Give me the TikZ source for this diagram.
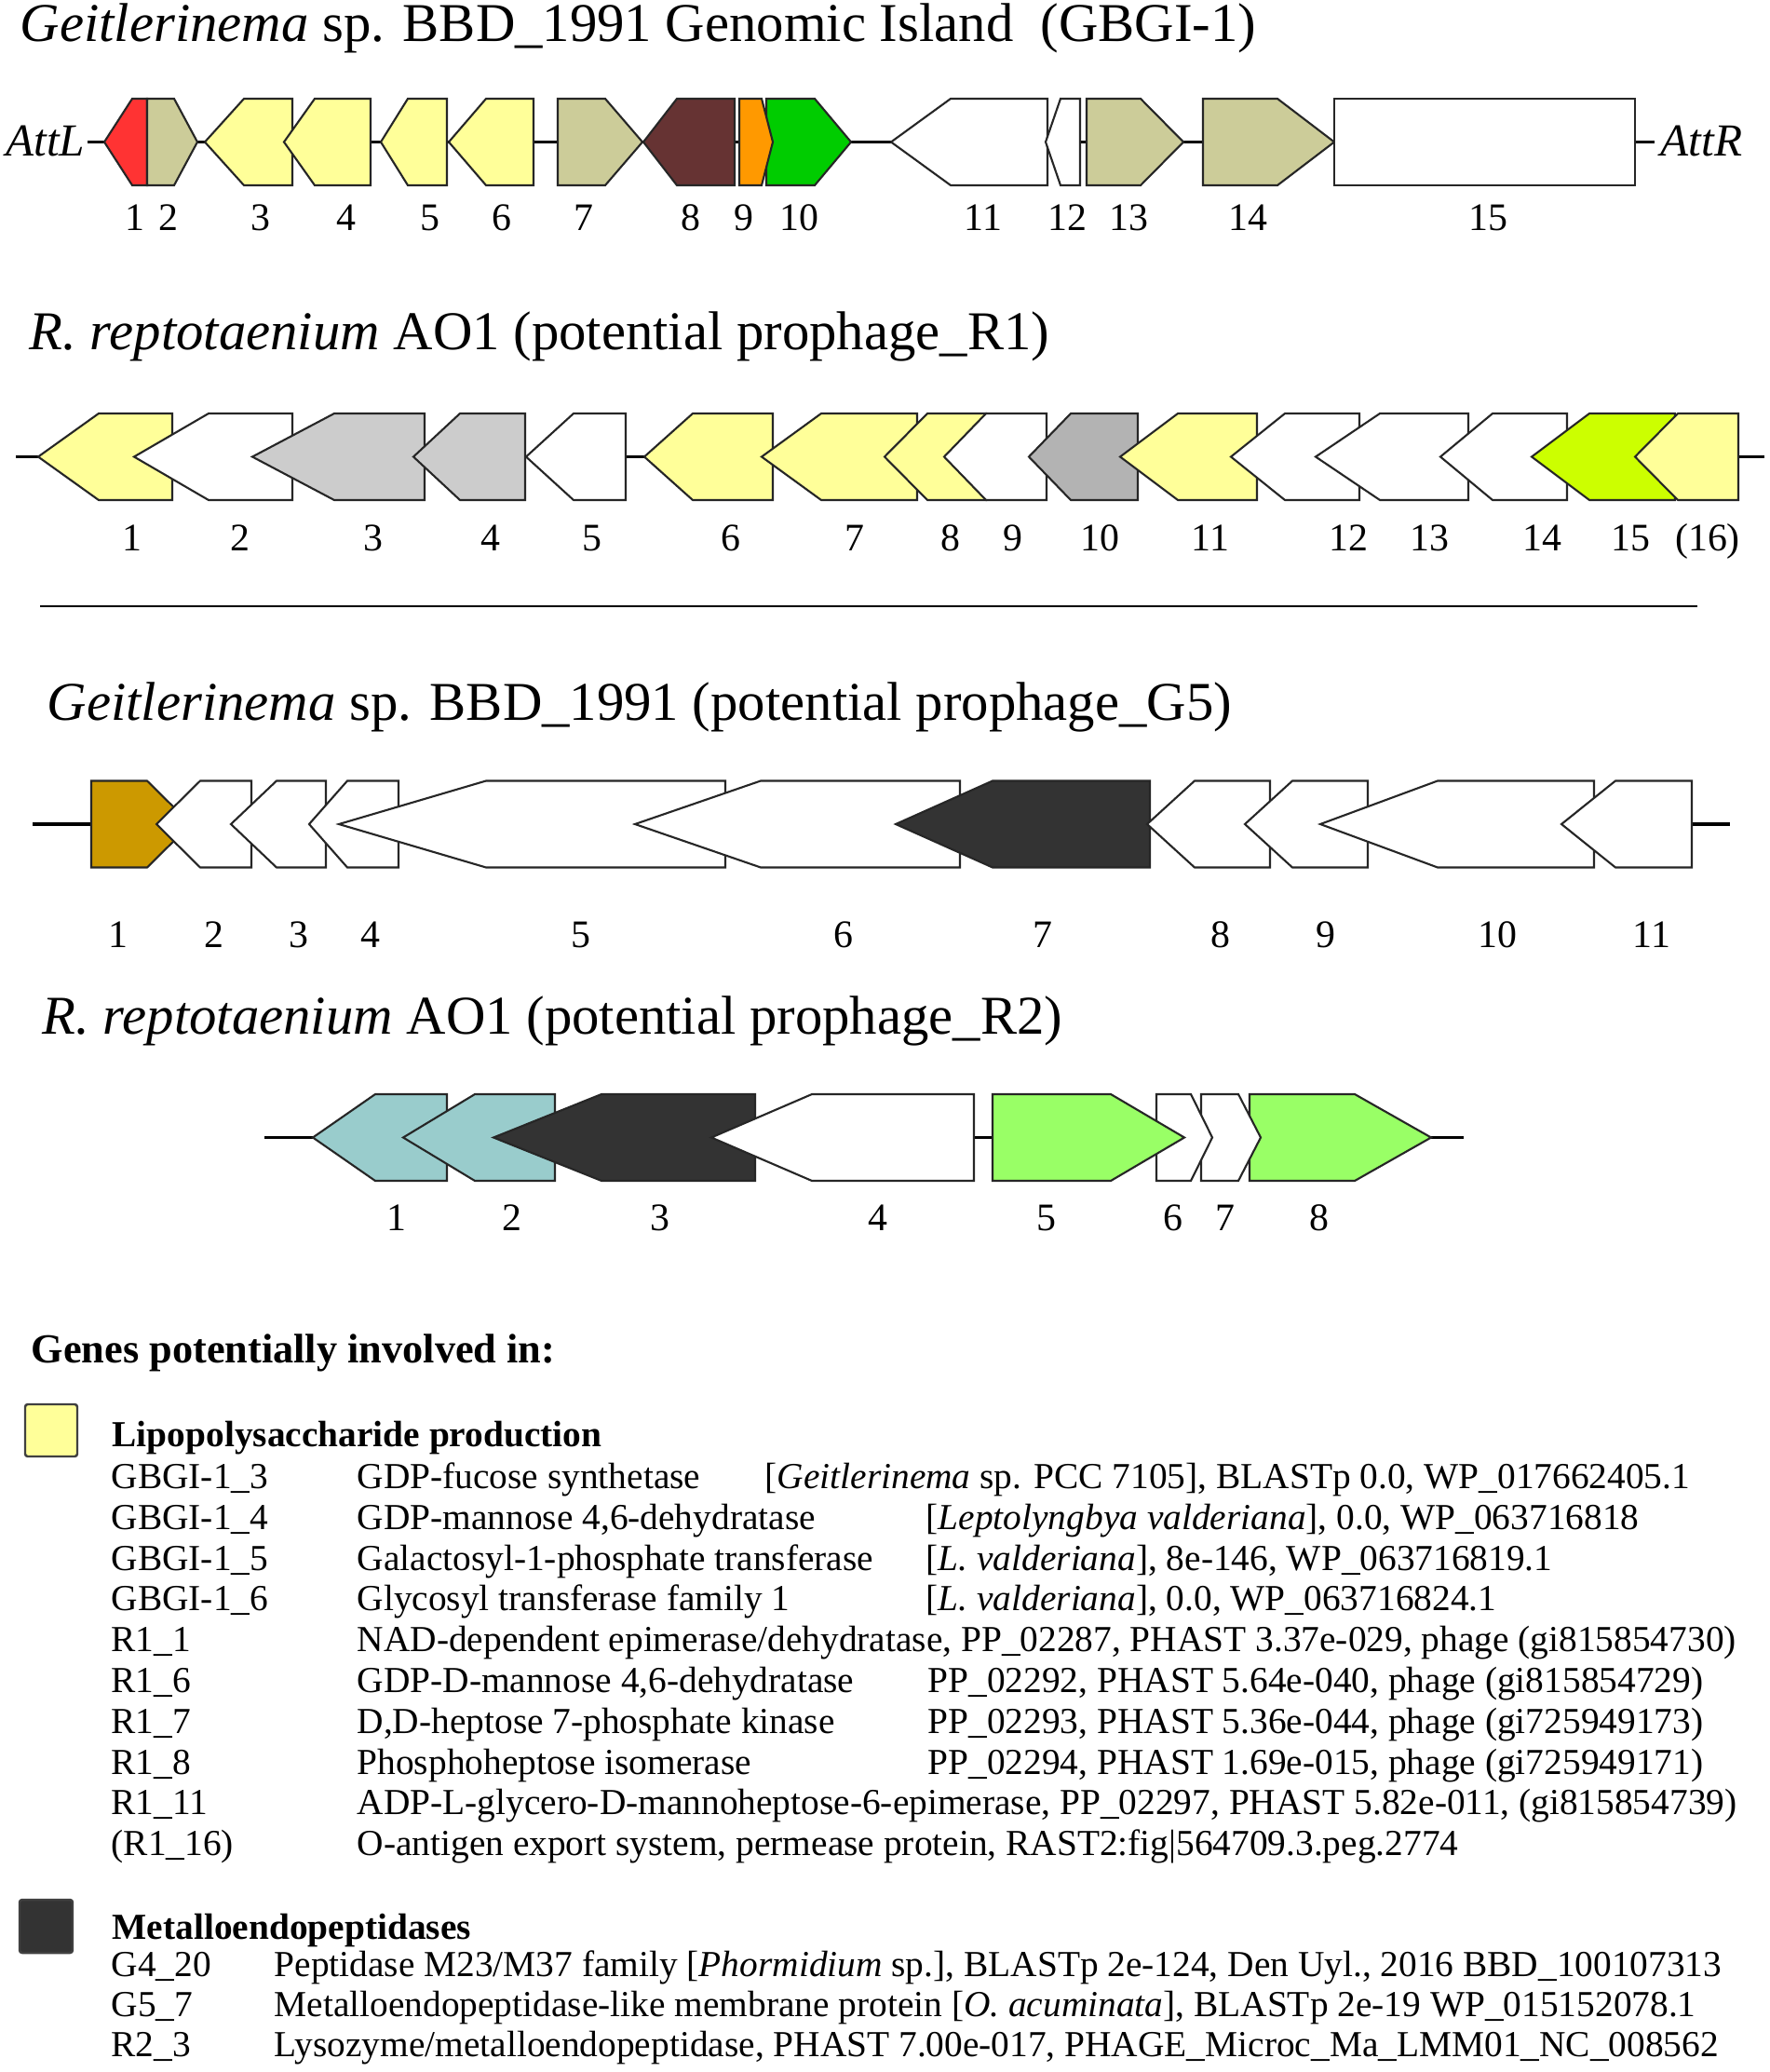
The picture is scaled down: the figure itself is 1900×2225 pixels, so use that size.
\documentclass[tikz,border=0pt]{standalone}
\usepackage{fontspec}
\setmainfont{Liberation Serif}

\definecolor{attred}{HTML}{FF3333}
\definecolor{khaki}{HTML}{CCCC99}
\definecolor{lipo}{HTML}{FFFF99}
\definecolor{brown}{HTML}{663333}
\definecolor{orange}{HTML}{FF9900}
\definecolor{green}{HTML}{00CC00}
\definecolor{grayl}{HTML}{CCCCCC}
\definecolor{grayd}{HTML}{B3B3B3}
\definecolor{lime}{HTML}{CCFF00}
\definecolor{gold}{HTML}{CC9900}
\definecolor{dark}{HTML}{333333}
\definecolor{teal}{HTML}{99CCCC}
\definecolor{lgreen}{HTML}{99FF66}

\tikzset{
    gene/.style={draw=black!85, line width=0.6pt, line join=miter},
    backbone/.style={line width=1.1pt},
    num/.style={anchor=base, inner sep=0pt, font=\fontsize{11.9}{14}\selectfont},
    rowtitle/.style={anchor=base west, inner sep=0pt, font=\fontsize{16.7}{20}\selectfont},
    att/.style={inner sep=0pt, font=\fontsize{14}{16}\selectfont\itshape},
    legend/.style={anchor=base west, inner sep=0pt, font=\fontsize{11.2}{13}\selectfont},
    legendhead/.style={anchor=base west, inner sep=0pt, font=\fontsize{11.2}{13}\selectfont\bfseries},
    swatch/.style={draw=black!75, line width=0.7pt, rounded corners=0.8pt}
}

\begin{document}
\begin{tikzpicture}[x=0.01cm, y=-0.01cm]

        \useasboundingbox (0, 0) rectangle (1900, 2225);

        \def\h{46.5}

        % ---- GBGI-1 ----
        \node[rowtitle] (t1) at (21, 45) {\textit{Geitlerinema} sp. BBD\_1991 Genomic Island\ \ (GBGI-1)};
        \def\yc{152.5}
        \draw[backbone] (94, \yc) -- (1777, \yc);
        \foreach \a/\b/\c/\col in {158/142/112/attred, 158/187/212/khaki, 314/262/220/lipo, 398/338/305/lipo, 480/438/409/lipo, 573/522/482/lipo, 599/650/690/khaki, 789/727/691/brown, 823/875/914/green, 794/818/830/orange, 1125/1021/957/white, 1160/1139/1123/white, 1167/1225/1271/khaki, 1292/1372/1433/khaki, 1433/1756/1756/white} {
            \filldraw[gene, fill=\col] (\a, \yc-\h) -- (\b, \yc-\h) -- (\c, \yc) -- (\b, \yc+\h) -- (\a, \yc+\h) -- cycle;
        }
        \node[att, anchor=base east] (attl) at (92, 168) {AttL};
        \node[att, anchor=base west] (attr) at (1783, 168) {AttR};
        \foreach \x/\t [count=\i] in {145/1, 181/2, 280/3, 372/4, 462/5, 539/6, 627/7, 742/8, 799/9, 858/10, 1056/11, 1146/12, 1212/13, 1340/14, 1598/15} {
            \node[num] (ga\i) at (\x, 248) {\t};
        }

        % ---- prophage R1 ----
        \node[rowtitle] (t2) at (31, 376) {\textit{R. reptotaenium} AO1 (potential prophage\_R1)};
        \def\yc{490.5}
        \draw[backbone] (17, \yc) -- (1895, \yc);
        \foreach \a/\b/\c/\col in {185/106/41/lipo, 314/224/144/white, 456/359/271/grayl, 564/494/444/grayl, 672/616/565/white, 830/744/692/lipo, 985/882/818/lipo, 1059/996/950/lipo, 1124/1059/1014/white, 1222/1150/1105/grayd, 1350/1265/1203/lipo, 1460/1380/1322/white, 1577/1482/1413/white, 1683/1603/1547/white, 1799/1707/1645/lime, 1867/1802/1756/lipo} {
            \filldraw[gene, fill=\col] (\a, \yc-\h) -- (\b, \yc-\h) -- (\c, \yc) -- (\b, \yc+\h) -- (\a, \yc+\h) -- cycle;
        }
        \foreach \x/\t [count=\i] in {142/1, 258/2, 401/3, 527/4, 636/5, 785/6, 918/7, 1021/8, 1088/9, 1181/10, 1300/11, 1448/12, 1535/13, 1656/14, 1751/15, 1834/(16)} {
            \node[num] (ra\i) at (\x, 591) {\t};
        }

        \draw[line width=0.7pt] (43, 651) -- (1823, 651);

        % ---- prophage G5 ----
        \node[rowtitle] (t3) at (50, 773) {\textit{Geitlerinema} sp. BBD\_1991 (potential prophage\_G5)};
        \def\yc{885}
        \draw[backbone] (35, \yc) -- (1858, \yc);
        \foreach \a/\b/\c/\col in {98/158/205/gold, 270/215/168/white, 350/297/248/white, 428/373/332/white, 779/522/364/white, 1031/817/682/white, 1235/1066/962/dark, 1364/1283/1232/white, 1469/1388/1337/white, 1712/1544/1418/white, 1817/1735/1677/white} {
            \filldraw[gene, fill=\col] (\a, \yc-\h) -- (\b, \yc-\h) -- (\c, \yc) -- (\b, \yc+\h) -- (\a, \yc+\h) -- cycle;
        }
        \foreach \x/\t [count=\i] in {127/1, 230/2, 321/3, 398/4, 624/5, 906/6, 1120/7, 1311/8, 1424/9, 1608/10, 1774/11} {
            \node[num] (gb\i) at (\x, 1017) {\t};
        }

        % ---- prophage R2 ----
        \node[rowtitle] (t4) at (45, 1110) {\textit{R. reptotaenium} AO1 (potential prophage\_R2)};
        \def\yc{1221.5}
        \draw[backbone] (284, \yc) -- (1572, \yc);
        \foreach \a/\b/\c/\col in {480/403/336/teal, 596/510/433/teal, 811/646/530/dark, 1046/872/764/white, 1342/1455/1537/lgreen, 1290/1330/1354/white, 1242/1279/1302/white, 1066/1193/1272/lgreen} {
            \filldraw[gene, fill=\col] (\a, \yc-\h) -- (\b, \yc-\h) -- (\c, \yc) -- (\b, \yc+\h) -- (\a, \yc+\h) -- cycle;
        }
        \foreach \x/\t [count=\i] in {426/1, 550/2, 709/3, 943/4, 1124/5, 1260/6, 1316/7, 1417/8} {
            \node[num] (rb\i) at (\x, 1321) {\t};
        }

        % ---- legend ----
        \node[legendhead, font=\fontsize{12.6}{15}\selectfont\bfseries] (lhead) at (33, 1463) {Genes potentially involved in:};

        \filldraw[swatch, fill=lipo] (27, 1508) rectangle (83, 1564);
        \node[legendhead] (lipohead) at (120, 1553) {Lipopolysaccharide production};

        \node[legend] (l1a) at (119, 1598) {GBGI-1\_3};
        \node[legend] (l1b) at (383, 1598) {GDP-fucose synthetase};
        \node[legend] (l1c) at (821, 1598) {[\textit{Geitlerinema} sp. PCC 7105], BLASTp 0.0, WP\_017662405.1};
        \node[legend] (l2a) at (119, 1642) {GBGI-1\_4};
        \node[legend] (l2b) at (383, 1642) {GDP-mannose 4,6-dehydratase};
        \node[legend] (l2c) at (994, 1642) {[\textit{Leptolyngbya valderiana}], 0.0, WP\_063716818};
        \node[legend] (l3a) at (119, 1686) {GBGI-1\_5};
        \node[legend] (l3b) at (383, 1686) {Galactosyl-1-phosphate transferase};
        \node[legend] (l3c) at (994, 1686) {[\textit{L. valderiana}], 8e-146, WP\_063716819.1};
        \node[legend] (l4a) at (119, 1729) {GBGI-1\_6};
        \node[legend] (l4b) at (383, 1729) {Glycosyl transferase family 1};
        \node[legend] (l4c) at (994, 1729) {[\textit{L. valderiana}], 0.0, WP\_063716824.1};
        \node[legend] (l5a) at (119, 1773) {R1\_1};
        \node[legend] (l5b) at (383, 1773) {NAD-dependent epimerase/dehydratase, PP\_02287, PHAST 3.37e-029, phage (gi815854730)};
        \node[legend] (l6a) at (119, 1817) {R1\_6};
        \node[legend] (l6b) at (383, 1817) {GDP-D-mannose 4,6-dehydratase};
        \node[legend] (l6c) at (996, 1817) {PP\_02292, PHAST 5.64e-040, phage (gi815854729)};
        \node[legend] (l7a) at (119, 1861) {R1\_7};
        \node[legend] (l7b) at (383, 1861) {D,D-heptose 7-phosphate kinase};
        \node[legend] (l7c) at (996, 1861) {PP\_02293, PHAST 5.36e-044, phage (gi725949173)};
        \node[legend] (l8a) at (119, 1905) {R1\_8};
        \node[legend] (l8b) at (383, 1905) {Phosphoheptose isomerase};
        \node[legend] (l8c) at (996, 1905) {PP\_02294, PHAST 1.69e-015, phage (gi725949171)};
        \node[legend] (l9a) at (119, 1948) {R1\_11};
        \node[legend] (l9b) at (383, 1948) {ADP-L-glycero-D-mannoheptose-6-epimerase, PP\_02297, PHAST 5.82e-011, (gi815854739)};
        \node[legend] (l10a) at (119, 1992) {(R1\_16)};
        \node[legend] (l10b) at (383, 1992) {O-antigen export system, permease protein, RAST2:fig\textbar 564709.3.peg.2774};

        \filldraw[swatch, fill=dark] (21, 2040) rectangle (78, 2097);
        \node[legendhead] (metahead) at (120, 2082) {Metalloendopeptidases};

        \node[legend] (m1a) at (119, 2122) {G4\_20};
        \node[legend] (m1b) at (294, 2122) {Peptidase M23/M37 family [\textit{Phormidium} sp.], BLASTp 2e-124, Den Uyl., 2016 BBD\_100107313};
        \node[legend] (m2a) at (119, 2165) {G5\_7};
        \node[legend] (m2b) at (294, 2165) {Metalloendopeptidase-like membrane protein [\textit{O. acuminata}], BLASTp 2e-19 WP\_015152078.1};
        \node[legend] (m3a) at (119, 2208) {R2\_3};
        \node[legend] (m3b) at (294, 2208) {Lysozyme/metalloendopeptidase, PHAST 7.00e-017, PHAGE\_Microc\_Ma\_LMM01\_NC\_008562};

    \end{tikzpicture}
\end{document}
